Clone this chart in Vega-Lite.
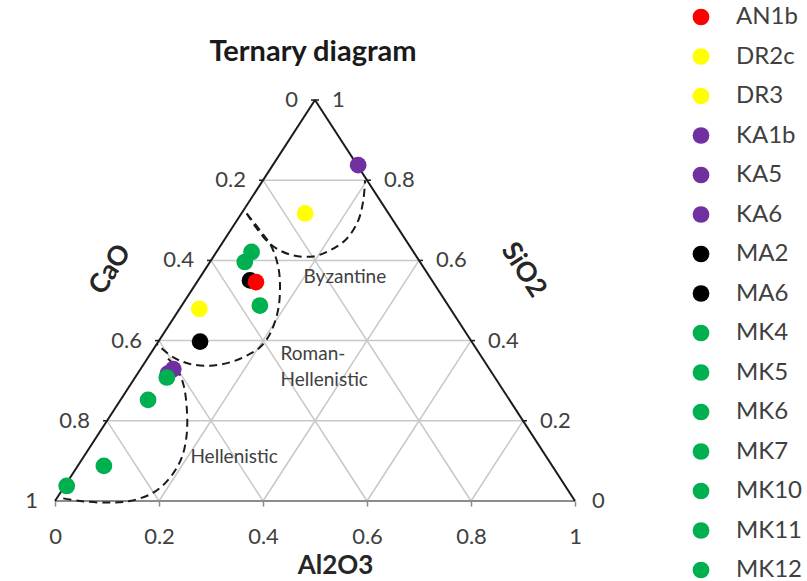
{
  "$schema": "https://vega.github.io/schema/vega-lite/v6.json",
  "width": 520,
  "height": 401,
  "autosize": {"type": "none"},
  "padding": {"left": 55, "top": 100, "right": 232, "bottom": 80},
  "background": "white",
  "config": {"view": {"stroke": null}, "font": "Lato"},
  "title": {"text": "Ternary diagram", "font": "Lato", "fontSize": 29, "fontWeight": "bold", "color": "#1a1a1a", "offset": -62, "anchor": "middle", "frame": "group", "dx": -2},
  "encoding": {
    "x": {"field": "x", "type": "quantitative", "scale": {"domain": [0, 1], "nice": false, "zero": false},
      "axis": {"values": [0, 0.2, 0.4, 0.6, 0.8, 1], "format": "~g", "title": "Al2O3", "domain": false, "grid": false, "ticks": true, "tickSize": 5, "tickColor": "#8c8c8c", "tickWidth": 1.5, "labelFont": "Lato", "labelFontSize": 22, "labelColor": "#404040", "labelPadding": 20, "labelFlush": false, "titleFont": "Lato", "titleFontSize": 26, "titleFontWeight": "bold", "titleColor": "#262626", "titlePadding": 5, "titleX": 280, "titleAlign": "center"}},
    "y": {"field": "y", "type": "quantitative", "scale": {"domain": [0, 1], "nice": false, "zero": false}, "axis": null}
  },
  "layer": [
    {
      "data": {"values": [
        {"x": 0.1, "y": 0.2, "x2": 0.9, "y2": 0.2},
        {"x": 0.2, "y": 0.4, "x2": 0.8, "y2": 0.4},
        {"x": 0.3, "y": 0.6, "x2": 0.7, "y2": 0.6},
        {"x": 0.4, "y": 0.8, "x2": 0.6, "y2": 0.8},
        {"x": 0.2, "y": 0, "x2": 0.6, "y2": 0.8},
        {"x": 0.4, "y": 0, "x2": 0.7, "y2": 0.6},
        {"x": 0.6, "y": 0, "x2": 0.8, "y2": 0.4},
        {"x": 0.8, "y": 0, "x2": 0.9, "y2": 0.2},
        {"x": 0.8, "y": 0, "x2": 0.4, "y2": 0.8},
        {"x": 0.6, "y": 0, "x2": 0.3, "y2": 0.6},
        {"x": 0.4, "y": 0, "x2": 0.2, "y2": 0.4},
        {"x": 0.2, "y": 0, "x2": 0.1, "y2": 0.2}
      ]},
      "mark": {"type": "rule", "stroke": "#c8c8c8", "strokeWidth": 1.5},
      "encoding": {"x2": {"field": "x2"}, "y2": {"field": "y2"}}
    },
    {
      "data": {"values": [{"x": 0, "y": 0, "x2": 1, "y2": 0}]},
      "mark": {"type": "rule", "stroke": "#8c8c8c", "strokeWidth": 2},
      "encoding": {"x2": {"field": "x2"}, "y2": {"field": "y2"}}
    },
    {
      "data": {"values": [
        {"x": 0, "y": 0, "x2": 0.5, "y2": 1},
        {"x": 0.5, "y": 1, "x2": 1, "y2": 0}
      ]},
      "mark": {"type": "rule", "stroke": "#1a1a1a", "strokeWidth": 2},
      "encoding": {"x2": {"field": "x2"}, "y2": {"field": "y2"}}
    },
    {
      "data": {"values": [
        {"x": 0.1, "y": 0.2}, {"x": 0.2, "y": 0.4}, {"x": 0.3, "y": 0.6}, {"x": 0.4, "y": 0.8}, {"x": 0.5, "y": 1}
      ]},
      "mark": {"type": "point", "shape": "M-1,0H0", "size": 64, "filled": false, "stroke": "#1a1a1a", "strokeWidth": 1.5, "opacity": 1}
    },
    {
      "data": {"values": [
        {"x": 0.9, "y": 0.2}, {"x": 0.8, "y": 0.4}, {"x": 0.7, "y": 0.6}, {"x": 0.6, "y": 0.8}, {"x": 0.5, "y": 1}
      ]},
      "mark": {"type": "point", "shape": "M0,0H1", "size": 64, "filled": false, "stroke": "#1a1a1a", "strokeWidth": 1.5, "opacity": 1}
    },
    {
      "data": {"values": [
        {"arc": "Byzantine", "i": 0, "x": 0.3687, "y": 0.7168},
        {"arc": "Byzantine", "i": 1, "x": 0.4006, "y": 0.6583},
        {"arc": "Byzantine", "i": 2, "x": 0.4263, "y": 0.6293},
        {"arc": "Byzantine", "i": 3, "x": 0.4583, "y": 0.6125},
        {"arc": "Byzantine", "i": 4, "x": 0.4967, "y": 0.61},
        {"arc": "Byzantine", "i": 5, "x": 0.5288, "y": 0.625},
        {"arc": "Byzantine", "i": 6, "x": 0.561, "y": 0.654},
        {"arc": "Byzantine", "i": 7, "x": 0.5833, "y": 0.7},
        {"arc": "Byzantine", "i": 8, "x": 0.5929, "y": 0.75},
        {"arc": "Byzantine", "i": 9, "x": 0.5962, "y": 0.8},
        {"arc": "Roman", "i": 0, "x": 0.3687, "y": 0.7168},
        {"arc": "Roman", "i": 1, "x": 0.3942, "y": 0.675},
        {"arc": "Roman", "i": 2, "x": 0.4167, "y": 0.6333},
        {"arc": "Roman", "i": 3, "x": 0.4294, "y": 0.5833},
        {"arc": "Roman", "i": 4, "x": 0.4327, "y": 0.5333},
        {"arc": "Roman", "i": 5, "x": 0.4288, "y": 0.475},
        {"arc": "Roman", "i": 6, "x": 0.4135, "y": 0.4168},
        {"arc": "Roman", "i": 7, "x": 0.3942, "y": 0.3833},
        {"arc": "Roman", "i": 8, "x": 0.3687, "y": 0.3625},
        {"arc": "Roman", "i": 9, "x": 0.3365, "y": 0.3458},
        {"arc": "Roman", "i": 10, "x": 0.2981, "y": 0.3375},
        {"arc": "Roman", "i": 11, "x": 0.2596, "y": 0.3418},
        {"arc": "Roman", "i": 12, "x": 0.2275, "y": 0.3583},
        {"arc": "Roman", "i": 13, "x": 0.1956, "y": 0.3918},
        {"arc": "Hellenistic", "i": 0, "x": 0.2173, "y": 0.355},
        {"arc": "Hellenistic", "i": 1, "x": 0.234, "y": 0.33},
        {"arc": "Hellenistic", "i": 2, "x": 0.2467, "y": 0.2918},
        {"arc": "Hellenistic", "i": 3, "x": 0.2533, "y": 0.2333},
        {"arc": "Hellenistic", "i": 4, "x": 0.2533, "y": 0.1668},
        {"arc": "Hellenistic", "i": 5, "x": 0.2437, "y": 0.1083},
        {"arc": "Hellenistic", "i": 6, "x": 0.2212, "y": 0.0583},
        {"arc": "Hellenistic", "i": 7, "x": 0.189, "y": 0.0208},
        {"arc": "Hellenistic", "i": 8, "x": 0.1442, "y": 0.0},
        {"arc": "Hellenistic", "i": 9, "x": 0.0994, "y": -0.004},
        {"arc": "Hellenistic", "i": 10, "x": 0.0481, "y": 0.0},
        {"arc": "Hellenistic", "i": 11, "x": 0.0096, "y": 0.008}
      ]},
      "mark": {"type": "line", "stroke": "#1a1a1a", "strokeWidth": 2, "strokeDash": [8, 5], "interpolate": "catmull-rom"},
      "encoding": {"detail": {"field": "arc"}, "order": {"field": "i", "type": "quantitative"}}
    },
    {
      "data": {"values": [
        {"sample": "KA6", "x": 0.217, "y": 0.3175},
        {"sample": "KA5", "x": 0.2275, "y": 0.329},
        {"sample": "KA1b", "x": 0.583, "y": 0.8375},
        {"sample": "MA2", "x": 0.375, "y": 0.55},
        {"sample": "MA6", "x": 0.279, "y": 0.3975},
        {"sample": "AN1b", "x": 0.3865, "y": 0.546},
        {"sample": "DR2c", "x": 0.481, "y": 0.717},
        {"sample": "DR3", "x": 0.2775, "y": 0.479},
        {"sample": "MK4", "x": 0.378, "y": 0.621},
        {"sample": "MK5", "x": 0.365, "y": 0.596},
        {"sample": "MK6", "x": 0.394, "y": 0.4875},
        {"sample": "MK7", "x": 0.215, "y": 0.308},
        {"sample": "MK10", "x": 0.179, "y": 0.252},
        {"sample": "MK11", "x": 0.094, "y": 0.0875},
        {"sample": "MK12", "x": 0.0225, "y": 0.0375}
      ]},
      "mark": {"type": "point", "shape": "circle", "filled": true, "size": 280, "opacity": 1},
      "encoding": {
        "color": {"field": "sample", "type": "nominal",
          "scale": {"domain": ["AN1b", "DR2c", "DR3", "KA1b", "KA5", "KA6", "MA2", "MA6", "MK4", "MK5", "MK6", "MK7", "MK10", "MK11", "MK12"],
                    "range": ["#FF0000", "#FFFF00", "#FFFF00", "#7030A0", "#7030A0", "#7030A0", "#000000", "#000000", "#00B050", "#00B050", "#00B050", "#00B050", "#00B050", "#00B050", "#00B050"]},
          "legend": {"orient": "none", "legendX": 634, "legendY": -95, "title": null, "labelFont": "Lato", "labelFontSize": 24, "labelColor": "#404040", "symbolType": "circle", "symbolSize": 280, "symbolStrokeWidth": 0, "symbolOpacity": 1, "rowPadding": 15.5, "labelOffset": 23, "padding": 0}}
      }
    },
    {
      "data": {"values": [
        {"x": 0.5, "y": 1, "t": "0"},
        {"x": 0.4, "y": 0.8, "t": "0.2"},
        {"x": 0.3, "y": 0.6, "t": "0.4"},
        {"x": 0.2, "y": 0.4, "t": "0.6"},
        {"x": 0.1, "y": 0.2, "t": "0.8"},
        {"x": 0, "y": 0, "t": "1"}
      ]},
      "mark": {"type": "text", "align": "right", "baseline": "middle", "dx": -17, "font": "Lato", "fontSize": 22, "color": "#404040"},
      "encoding": {"text": {"field": "t"}}
    },
    {
      "data": {"values": [
        {"x": 0.5, "y": 1, "t": "1"},
        {"x": 0.6, "y": 0.8, "t": "0.8"},
        {"x": 0.7, "y": 0.6, "t": "0.6"},
        {"x": 0.8, "y": 0.4, "t": "0.4"},
        {"x": 0.9, "y": 0.2, "t": "0.2"},
        {"x": 1, "y": 0, "t": "0"}
      ]},
      "mark": {"type": "text", "align": "left", "baseline": "middle", "dx": 17, "font": "Lato", "fontSize": 22, "color": "#404040"},
      "encoding": {"text": {"field": "t"}}
    },
    {
      "data": {"values": [
        {"x": 0.478, "y": 0.5586, "t": "Byzantine"},
        {"x": 0.4337, "y": 0.3666, "t": "Roman-"},
        {"x": 0.4337, "y": 0.3017, "t": "Hellenistic"},
        {"x": 0.2604, "y": 0.1097, "t": "Hellenistic"}
      ]},
      "mark": {"type": "text", "align": "left", "baseline": "middle", "font": "Lato", "fontSize": 19, "color": "#404040"},
      "encoding": {"text": {"field": "t"}}
    },
    {
      "data": {"values": [{"x": 0.1067, "y": 0.577, "t": "CaO"}]},
      "mark": {"type": "text", "align": "center", "baseline": "middle", "angle": 303, "font": "Lato", "fontSize": 27, "fontWeight": "bold", "color": "#262626"},
      "encoding": {"text": {"field": "t"}}
    },
    {
      "data": {"values": [{"x": 0.901, "y": 0.576, "t": "SiO2"}]},
      "mark": {"type": "text", "align": "center", "baseline": "middle", "angle": 57, "font": "Lato", "fontSize": 27, "fontWeight": "bold", "color": "#262626"},
      "encoding": {"text": {"field": "t"}}
    }
  ]
}
